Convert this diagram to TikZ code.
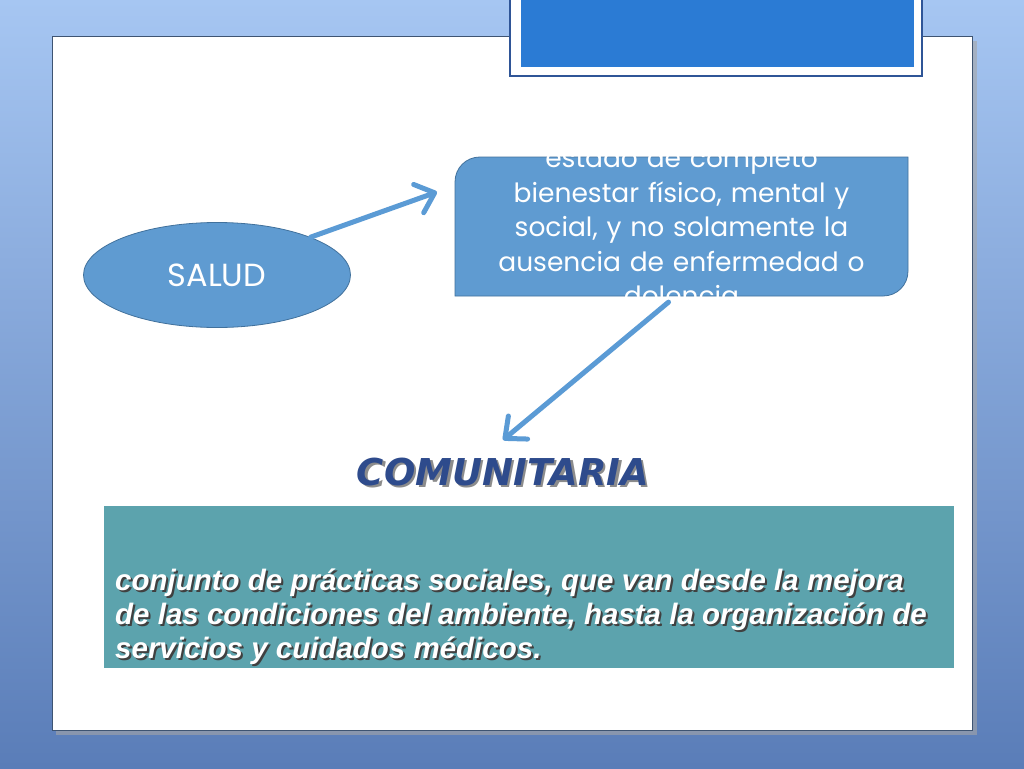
\documentclass[tikz,border=0pt]{standalone}
\usepackage{fontspec}
\setmainfont{Liberation Sans}
\newfontfamily\gothic{Poppins}
\newfontfamily\tahoma{DejaVu Sans}
\usetikzlibrary{shapes.geometric,arrows.meta}

\definecolor{bgtop}{HTML}{A6C6F2}
\definecolor{bgbot}{HTML}{5A7DB8}
\definecolor{titleblue}{HTML}{2B7BD4}
\definecolor{titleedge}{HTML}{2F5597}
\definecolor{shapeblue}{HTML}{5F9BD1}
\definecolor{shapeedge}{HTML}{41719C}
\definecolor{arrowblue}{HTML}{5B9BD5}
\definecolor{tealbox}{HTML}{5CA3AD}
\definecolor{comblue}{HTML}{2E4B8C}
\definecolor{paneledge}{HTML}{3E5472}

\begin{document}
\begin{tikzpicture}[x=1pt,y=-1pt,
	blob/.style={ellipse,fill=shapeblue,draw=shapeedge,line width=0.8pt,minimum width=267pt,minimum height=105pt,inner sep=0pt,text=white,font=\gothic\fontsize{32}{36}\selectfont},
	deftext/.style={text=white,align=center,text width=440pt,inner sep=0pt,font=\gothic\fontsize{26.5}{34.5}\selectfont},
	link/.style={arrowblue,line width=5pt,line cap=round,-{Straight Barb[length=17pt,width=30pt,round]}},
	heading/.style={font=\tahoma\bfseries\itshape\fontsize{37}{40}\selectfont},
	bodytext/.style={anchor=west,align=left,inner sep=0pt,font=\bfseries\itshape\fontsize{29.5}{34}\selectfont}]
	\clip (0,0) rectangle (1024,768);
	% background and slide panel
	\shade[top color=bgtop,bottom color=bgbot] (0,0) rectangle (1024,768);
	\fill[black!35,opacity=0.6] (56,41) rectangle (977,735);
	\draw[fill=white,draw=paneledge,line width=1pt] (52,37) rectangle (972,730);
	% title box
	\draw[fill=white,draw=titleedge,line width=1.2pt] (510,-5) rectangle (922,76);
	\fill[titleblue] (521,-5) rectangle (914,67);
	% definition box
	\draw[fill=shapeblue,draw=shapeedge,line width=0.8pt] (455,296) -- (455,182) .. controls (455,168) and (466,157) .. (480,157) -- (908,157) -- (908,271) .. controls (908,285) and (897,296) .. (883,296) -- cycle;
	\node[deftext] (def) at (681.5,227) {estado de completo\\bienestar físico, mental y\\social, y no solamente la\\ausencia de enfermedad o\\dolencia};
	\node[blob] (salud) at (217,275) {SALUD};
	\coordinate (tip1) at (437,192);
	\coordinate (tip2) at (503,440);
	\draw[link] (salud.22) -- (tip1);
	\draw[link] ([xshift=-13pt,yshift=4pt]def.south) -- (tip2);
	% heading with shadow
	\node[heading,text=black!45] (comShadow) at (505.5,474.5) {COMUNITARIA};
	\node[heading,text=comblue] (com) at (503,472) {COMUNITARIA};
	% teal box
	\fill[tealbox] (104,506) rectangle (954,668);
	\node[bodytext,text=black!75] (bodyShadow) at (117,618.5) {conjunto de prácticas sociales, que van desde la mejora\\de las condiciones del ambiente, hasta la organización de\\servicios y cuidados médicos.};
	\node[bodytext,text=white] (body) at (115,617) {conjunto de prácticas sociales, que van desde la mejora\\de las condiciones del ambiente, hasta la organización de\\servicios y cuidados médicos.};
\end{tikzpicture}
\end{document}
